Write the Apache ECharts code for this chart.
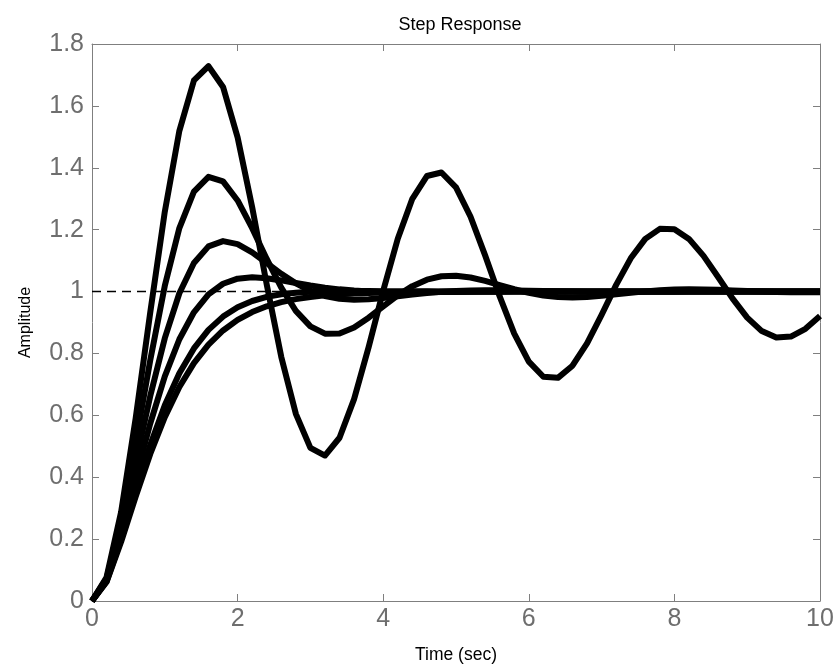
<!DOCTYPE html>
<html>
<head>
<meta charset="utf-8">
<script src="https://cdn.jsdelivr.net/npm/echarts@6/dist/echarts.min.js"></script>
<style>
html,body{margin:0;padding:0;background:#fff;}
#chart{width:839px;height:671px;}
</style>
</head>
<body>
<div id="chart"></div>
<script>
// time samples (sec)
var time = [0,0.2,0.4,0.6,0.8,1.0,1.2,1.4,1.6,1.8,2.0,2.2,2.4,2.6,2.8,3.0,3.2,3.4,3.6,3.8,4.0,4.2,4.4,4.6,4.8,5.0,5.2,5.4,5.6,5.8,6.0,6.2,6.4,6.6,6.8,7.0,7.2,7.4,7.6,7.8,8.0,8.2,8.4,8.6,8.8,9.0,9.2,9.4,9.6,9.8,10.0];
// amplitude readings for each response curve
var respA = [0,0.0769,0.2878,0.5906,0.9324,1.2581,1.5195,1.6821,1.7286,1.6612,1.4982,1.2725,1.0227,0.7888,0.6048,0.4949,0.4701,0.5276,0.6524,0.8203,1.0026,1.1705,1.2996,1.3733,1.3847,1.3369,1.2416,1.1170,0.9842,0.8641,0.7738,0.7247,0.7212,0.7603,0.8327,0.9250,1.0215,1.1074,1.1703,1.2026,1.2017,1.1702,1.1153,1.0472,0.9771,0.9159,0.8722,0.8512,0.8544,0.8795,0.9209];
var respB = [0,0.0730,0.2605,0.5119,0.7781,1.0186,1.2053,1.3232,1.3707,1.3560,1.2944,1.2047,1.1054,1.0125,0.9376,0.8875,0.8639,0.8644,0.8838,0.9154,0.9522,0.9878,1.0175,1.0384,1.0495,1.0513,1.0454,1.0345,1.0210,1.0075,0.9958,0.9872,0.9822,0.9808,0.9824,0.9861,0.9910,0.9961,1.0006,1.0041,1.0063,1.0071,1.0068,1.0056,1.0038,1.0019,1.0001,0.9987,0.9978,0.9974,0.9974];
var respC = [0,0.0694,0.2370,0.4487,0.6623,0.8494,0.9945,1.0924,1.1460,1.1630,1.1531,1.1266,1.0923,1.0574,1.0265,1.0023,0.9858,0.9766,0.9735,0.9748,0.9790,0.9845,0.9903,0.9954,0.9994,1.0022,1.0038,1.0043,1.0041,1.0035,1.0026,1.0016,1.0008,1.0001,0.9997,0.9994,0.9993,0.9993,0.9994,0.9996,0.9997,0.9999,1.0000,1.0000,1.0001,1.0001,1.0001,1.0001,1.0001,1.0000,1.0000];
var respD = [0,0.0661,0.2167,0.3975,0.5736,0.7257,0.8458,0.9330,0.9909,1.0251,1.0416,1.0460,1.0429,1.0360,1.0277,1.0196,1.0126,1.0071,1.0031,1.0004,0.9988,0.9981,0.9979,0.9980,0.9983,0.9987,0.9991,0.9994,0.9997,0.9999,1.0000,1.0001,1.0001,1.0001,1.0001,1.0001,1.0000,1.0000,1.0000,1.0000,1.0000,1.0000,1.0000,1.0000,1.0000,1.0000,1.0000,1.0000,1.0000,1.0000,1.0000];
var respE = [0,0.0630,0.1992,0.3555,0.5042,0.6324,0.7361,0.8163,0.8761,0.9191,0.9491,0.9695,0.9828,0.9912,0.9963,0.9992,1.0007,1.0014,1.0015,1.0014,1.0012,1.0010,1.0008,1.0006,1.0004,1.0003,1.0002,1.0001,1.0001,1.0001,1.0000,1.0000,1.0000,1.0000,1.0000,1.0000,1.0000,1.0000,1.0000,1.0000,1.0000,1.0000,1.0000,1.0000,1.0000,1.0000,1.0000,1.0000,1.0000,1.0000,1.0000];
var respF = [0,0.0616,0.1912,0.3374,0.4751,0.5940,0.6916,0.7689,0.8288,0.8743,0.9084,0.9337,0.9523,0.9658,0.9756,0.9826,0.9877,0.9913,0.9939,0.9957,0.9970,0.9979,0.9985,0.9990,0.9993,0.9995,0.9997,0.9998,0.9998,0.9999,0.9999,0.9999,1.0000,1.0000,1.0000,1.0000,1.0000,1.0000,1.0000,1.0000,1.0000,1.0000,1.0000,1.0000,1.0000,1.0000,1.0000,1.0000,1.0000,1.0000,1.0000];
// steady-state reference line
var refTime = [0, 10];
var refValue = [1, 1];
// tick labels
var xTicks = ['0','2','4','6','8','10'];
var yTicks = ['0','0.2','0.4','0.6','0.8','1','1.2','1.4','1.6','1.8'];
var titleText = 'Step Response';
var xName = 'Time (sec)';
var yName = 'Amplitude';

function pairs(xs, ys){ return xs.map(function(x,i){ return [x, ys[i]]; }); }

var chart = echarts.init(document.getElementById('chart'), null, {renderer:'canvas'});
var FONT = '"Liberation Sans", Arial, sans-serif';
var AX = '#7f7f7f';
var LAB = '#6e6e6e';

function curve(data){
  return {type:'line', data: pairs(time, data), showSymbol:false, symbol:'none',
    lineStyle:{color:'#000', width:6, join:'round', cap:'butt'}, silent:true, z:3, animation:false};
}
function axLine(){ return {show:true, onZero:false, lineStyle:{color:AX, width:1}}; }
function axTick(){ return {show:true, inside:true, length:7, lineStyle:{color:AX}}; }

var option = {
  animation:false,
  backgroundColor:'#fff',
  title:{text:titleText, left:455, top:11, textAlign:'center',
    textStyle:{fontFamily:FONT, fontSize:18, fontWeight:'normal', color:'#000'}},
  grid:{left:92, right:19, top:44, bottom:70},
  xAxis:[
    {type:'value', min:0, max:10, interval:2, position:'bottom',
     name:xName, nameLocation:'middle', nameGap:45,
     nameTextStyle:{fontFamily:FONT, fontSize:17.5, color:'#000'},
     axisLine:axLine(), axisTick:axTick(),
     axisLabel:{show:true, margin:6, fontFamily:FONT, fontSize:25, color:LAB,
       formatter:function(v){ return xTicks[Math.round(v/2)]; }},
     splitLine:{show:false}},
    {type:'value', min:0, max:10, interval:2, position:'top',
     axisLine:axLine(), axisTick:axTick(),
     axisLabel:{show:false}, splitLine:{show:false}}
  ],
  yAxis:[
    {type:'value', min:0, max:1.8, interval:0.2, position:'left',
     name:yName, nameLocation:'middle', nameGap:58, nameRotate:90,
     nameTextStyle:{fontFamily:FONT, fontSize:16, color:'#000'},
     axisLine:axLine(), axisTick:axTick(),
     axisLabel:{show:true, margin:8, fontFamily:FONT, fontSize:25, color:LAB,
       formatter:function(v){ return yTicks[Math.round(v/0.2)]; }},
     splitLine:{show:false}},
    {type:'value', min:0, max:1.8, interval:0.2, position:'right',
     axisLine:axLine(), axisTick:axTick(),
     axisLabel:{show:false}, splitLine:{show:false}}
  ],
  series:[
    {type:'line', data: pairs(refTime, refValue), showSymbol:false, symbol:'none', silent:true, z:2,
     lineStyle:{color:'#000', width:1.6, type:[9,6]}},
    curve(respF), curve(respE), curve(respD), curve(respC), curve(respB), curve(respA)
  ]
};
chart.setOption(option);
</script>
</body>
</html>
